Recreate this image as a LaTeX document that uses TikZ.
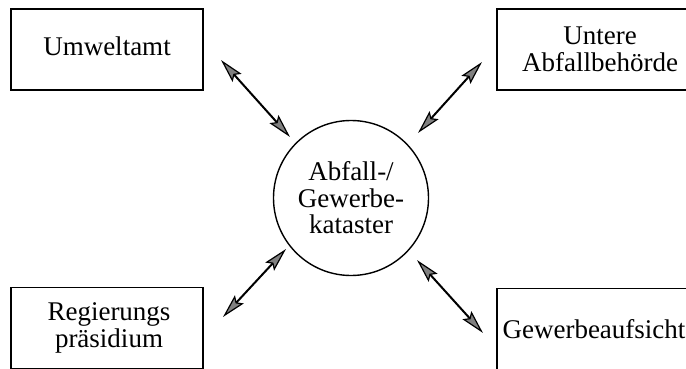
\documentclass[tikz,border=0pt]{standalone}
\usepackage{fontspec}
\setmainfont{Liberation Serif}
\usetikzlibrary{arrows.meta}
\begin{document}
\begin{tikzpicture}[x=1pt,y=-1pt,
  office/.style={draw,line width=1.4pt,rectangle,minimum width=192pt,minimum height=81pt,
    inner sep=0pt,align=center,font=\fontsize{27}{27}\selectfont},
  hub/.style={draw,line width=1.4pt,circle,minimum size=155pt,inner sep=0pt,
    align=center,font=\fontsize{27}{26.5}\selectfont},
  link/.style={line width=2pt,
    >={Stealth[length=24pt,width=12pt,inset=4pt,line width=1.2pt,fill=black!50]},<->}]
\useasboundingbox (0,0) rectangle (686,369);
\clip (0,0) rectangle (686,369);
% offices
\node[office] (umw) at (107,49.5) {Umweltamt\vphantom{g}};
\node[office] (uab) at (593,49.5) {\hspace*{14pt}Untere\\\hspace*{14pt}Abfallbehörde};
\node[office] (rp)  at (107,328) {\hspace*{4pt}Regierungs\\\hspace*{4pt}präsidium};
\node[office] (gew) at (593,329) {\hspace*{2pt}Gewerbeaufsicht};
% register in the middle
\node[hub] (kat) at (351,198) {Abfall-/\\Gewerbe-\\kataster};
% arrow ends
\coordinate (u1) at (221,60);  \coordinate (u2) at (290,137);
\coordinate (a1) at (482,62);  \coordinate (a2) at (418,133);
\coordinate (r1) at (223,317); \coordinate (r2) at (286,249);
\coordinate (g1) at (483,333); \coordinate (g2) at (417,260);
\draw[link] (u1) -- (u2);
\draw[link] (a1) -- (a2);
\draw[link] (r1) -- (r2);
\draw[link] (g1) -- (g2);
\end{tikzpicture}
\end{document}
